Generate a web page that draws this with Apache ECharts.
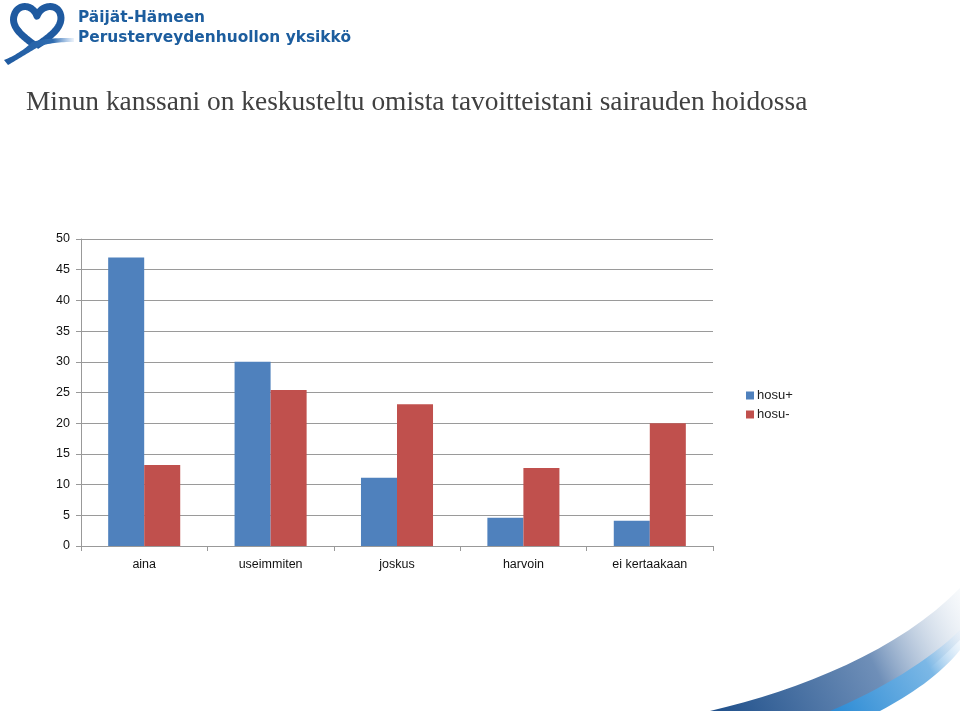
<!DOCTYPE html>
<html>
<head>
<meta charset="utf-8">
<script src="https://cdn.jsdelivr.net/npm/echarts@6/dist/echarts.min.js"></script>
<style>
html,body{margin:0;padding:0;background:#fff;}
#chart{width:960px;height:711px;}
</style>
</head>
<body>
<div id="chart"></div>
<script>
const categories = ['aina', 'useimmiten', 'joskus', 'harvoin', 'ei kertaakaan'];
const hosuPlus = [47, 30, 11.1, 4.6, 4.1];
const hosuMinus = [13.2, 25.4, 23.1, 12.7, 20.0];
const seriesNames = ['hosu+', 'hosu-'];
const titleText = 'Minun kanssani on keskusteltu omista tavoitteistani sairauden hoidossa';

function lin(x, y, x2, y2, stops) {
  return { type: 'linear', x: x, y: y, x2: x2, y2: y2, colorStops: stops };
}
// sample a chain of cubic segments [[p0,c1,c2,p1], ...] into points (decoration only)
function bez(segs) {
  const pts = [];
  segs.forEach(function (s) {
    for (let i = 0; i <= 16; i++) {
      const t = i / 16, u = 1 - t;
      pts.push([
        u*u*u*s[0][0] + 3*u*u*t*s[1][0] + 3*u*t*t*s[2][0] + t*t*t*s[3][0],
        u*u*u*s[0][1] + 3*u*u*t*s[1][1] + 3*u*t*t*s[2][1] + t*t*t*s[3][1]
      ]);
    }
  });
  return pts;
}

const chart = echarts.init(document.getElementById('chart'));
chart.setOption({
  animation: false,
  backgroundColor: '#fff',
  title: {
    text: titleText,
    left: 21, top: 84,
    textStyle: { fontFamily: 'Liberation Serif', fontWeight: 'normal', fontSize: 27.4, color: '#404040' }
  },
  legend: {
    orient: 'vertical', left: 741, top: 384,
    itemWidth: 8, itemHeight: 8, itemGap: 6,
    icon: 'rect',
    textStyle: { fontFamily: 'Liberation Sans', fontSize: 13, color: '#222', padding: [0,0,0,-2] },
    data: seriesNames
  },
  grid: { left: 81, right: 247, top: 239, bottom: 165, containLabel: false },
  xAxis: {
    type: 'category', data: categories,
    axisLine: { lineStyle: { color: '#999' } },
    axisTick: { show: true, length: 5, lineStyle: { color: '#999' } },
    axisLabel: { fontFamily: 'Liberation Sans', fontSize: 12.5, color: '#111', margin: 12 }
  },
  yAxis: {
    type: 'value', min: 0, max: 50, interval: 5,
    axisLine: { show: true, lineStyle: { color: '#999' } },
    axisTick: { show: true, length: 5, lineStyle: { color: '#999' } },
    splitLine: { lineStyle: { color: '#9a9a9a' } },
    axisLabel: { fontFamily: 'Liberation Sans', fontSize: 12.5, color: '#111', margin: 11 }
  },
  series: [
    { name: seriesNames[0], type: 'bar', data: hosuPlus, barGap: '0%', barCategoryGap: '43%', itemStyle: { color: '#4F81BD' } },
    { name: seriesNames[1], type: 'bar', data: hosuMinus, itemStyle: { color: '#C0504D' } }
  ],
  graphic: [
    { type: 'polyline', shape: { points: bez([[[36,46],[22,36],[9,26],[15,13]],[[15,13],[20,3],[33,5],[37,16]],[[37,16],[41,5],[56,3],[60,13]],[[60,13],[65,26],[50,37],[36,46]]]) },
      style: { fill: null, stroke: '#1f5aa0', lineWidth: 7, lineJoin: 'round' } },
    { type: 'polygon', shape: { points: bez([[[32,42],[24,50],[14,56],[4,60]],[[8,65],[18,59],[28,53],[38,47]],[[38,47],[48,43],[60,42],[74,42]],[[74,38],[60,38],[46,38],[32,42]]]) },
      style: { fill: lin(0,0,1,0,[{offset:0,color:'#1f5aa0'},{offset:0.7,color:'#2f6cb0'},{offset:1,color:'rgba(80,140,210,0.1)'}]) } },
    { type: 'text', left: 78, top: 10, style: { text: 'Päijät-Hämeen', font: 'bold 15.4px "DejaVu Sans"', fill: '#1c5d9e' } },
    { type: 'text', left: 78, top: 30, style: { text: 'Perusterveydenhuollon yksikkö', font: 'bold 15.4px "DejaVu Sans"', fill: '#1c5d9e' } },
    { type: 'polygon', shape: { points: bez([[[710,711],[800,690],[900,650],[960,588]],[[960,640],[930,670],[900,695],[860,711]]]) },
      style: { fill: lin(0,1,1,0,[{offset:0,color:'#1e4f8a'},{offset:0.6,color:'#6f8fb8'},{offset:1,color:'rgba(220,230,240,0.2)'}]) } },
    { type: 'polygon', shape: { points: bez([[[830,711],[880,690],[930,660],[960,630]],[[960,650],[940,675],[910,695],[880,711]]]) },
      style: { fill: lin(0,1,1,0,[{offset:0,color:'#2a8ad4'},{offset:0.7,color:'#7cb8e6'},{offset:1,color:'rgba(220,235,250,0.2)'}]) } }
  ]
});
</script>
</body>
</html>
